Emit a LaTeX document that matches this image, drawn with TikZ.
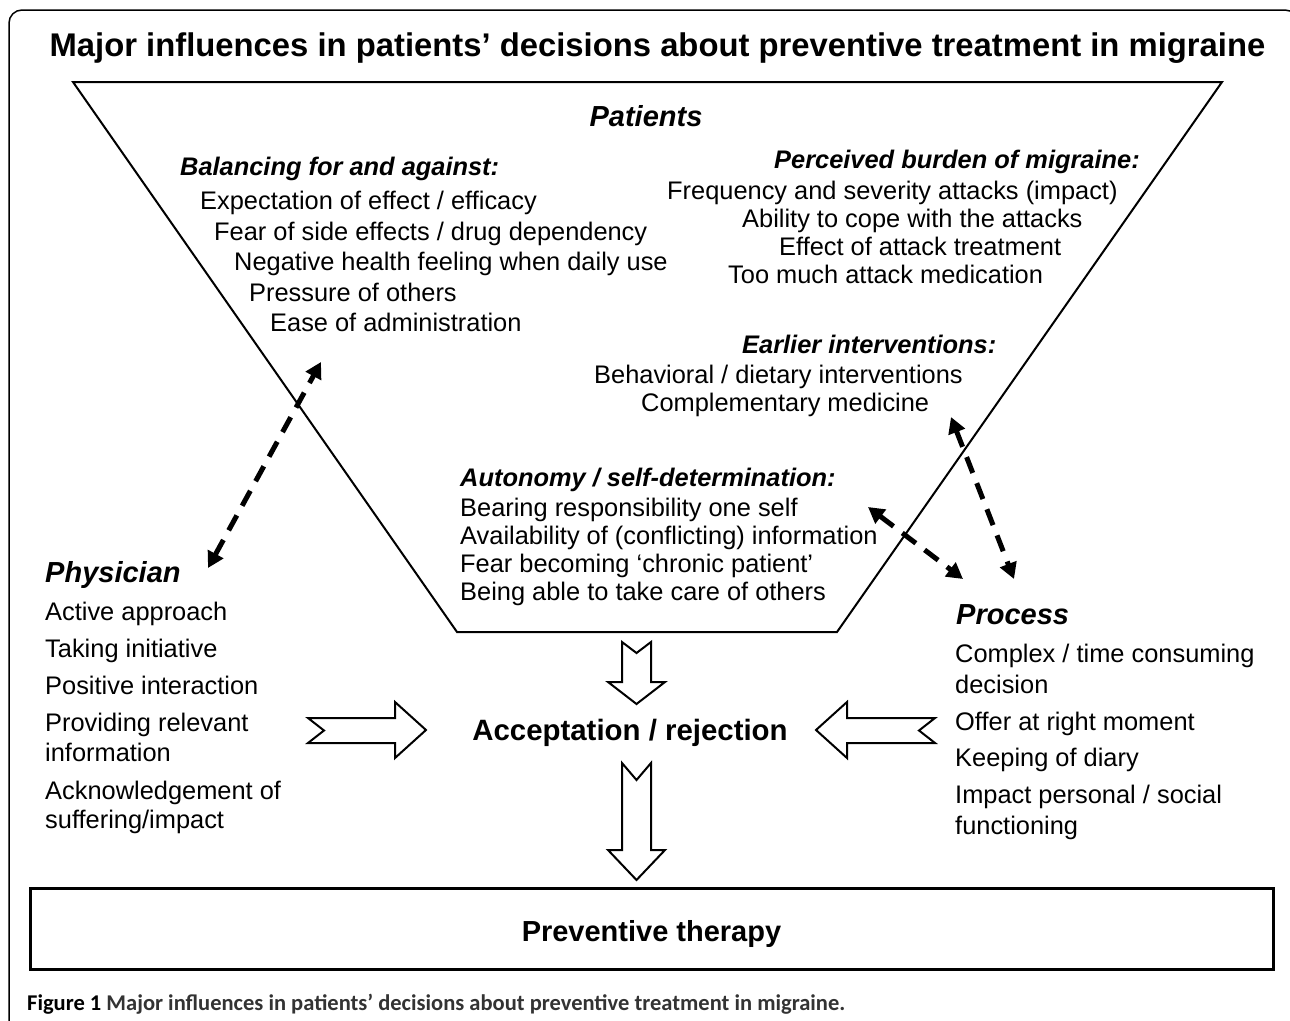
\documentclass[tikz,border=0pt]{standalone}
\usepackage{fontspec}
\setmainfont{Liberation Sans}
\newfontfamily\capfont{Carlito}
\usetikzlibrary{arrows.meta}
\tikzset{
  txt/.style={anchor=base west, inner sep=0pt, font=\fontsize{25.4}{30}\selectfont},
  subhead/.style={anchor=base west, inner sep=0pt, font=\fontsize{25.4}{30}\selectfont\bfseries\itshape},
  head/.style={anchor=base west, inner sep=0pt, font=\fontsize{29}{34}\selectfont\bfseries\itshape},
  blockarrow/.style={draw=black, line width=2pt, fill=white, line join=miter},
  dasharrow/.style={line width=5pt, dash pattern=on 17pt off 11pt,
    {Triangle[length=16pt,width=17pt]}-{Triangle[length=16pt,width=17pt]}},
}
\begin{document}
\begin{tikzpicture}[x=1pt,y=-1pt]
\useasboundingbox (0,0) rectangle (1290,1020);
\clip (0,0) rectangle (1290,1020);
\fill[white] (0,0) rectangle (1290,1020);
% outer frame
\draw[line width=1.5pt, rounded corners=13pt] (9,10) rectangle (1298,1040);
% title
\node[anchor=base, inner sep=0pt, font=\fontsize{32.8}{38}\selectfont\bfseries] (title) at (657.5,56)
  {Major influences in patients’ decisions about preventive treatment in migraine};
% funnel
\draw[line width=2pt, line join=miter] (73,82) -- (1222,82) -- (837,632) -- (457,632) -- cycle;
\node[anchor=base, inner sep=0pt, font=\fontsize{29}{34}\selectfont\bfseries\itshape] (patients) at (646,126) {Patients};
% balancing
\node[subhead] (bal) at (180,175) {Balancing for and against:};
\node[txt] (b1) at (200,209) {Expectation of effect / efficacy};
\node[txt] (b2) at (214,240) {Fear of side effects / drug dependency};
\node[txt] (b3) at (234,270) {Negative health feeling when daily use};
\node[txt] (b4) at (249,301) {Pressure of others};
\node[txt] (b5) at (270,331) {Ease of administration};
% perceived burden
\node[subhead] (burd) at (774,168) {Perceived burden of migraine:};
\node[txt] (p1) at (667,199) {Frequency and severity attacks (impact)};
\node[txt] (p2) at (742,227) {Ability to cope with the attacks};
\node[txt] (p3) at (779,255) {Effect of attack treatment};
\node[txt] (p4) at (728,283) {Too much attack medication};
% earlier interventions
\node[subhead] (earl) at (742,353) {Earlier interventions:};
\node[txt] (e1) at (594,383) {Behavioral / dietary interventions};
\node[txt] (e2) at (641,411) {Complementary medicine};
% autonomy
\node[subhead] (auto) at (460,486) {Autonomy / self-determination:};
\node[txt] (a1) at (460,516) {Bearing responsibility one self};
\node[txt] (a2) at (460,544) {Availability of (conflicting) information};
\node[txt] (a3) at (460,572) {Fear becoming ‘chronic patient’};
\node[txt] (a4) at (460,600) {Being able to take care of others};
% physician
\node[head] (phys) at (45,582) {Physician};
\node[txt] (ph1) at (45,620) {Active approach};
\node[txt] (ph2) at (45,657) {Taking initiative};
\node[txt] (ph3) at (45,694) {Positive interaction};
\node[txt] (ph4) at (45,731) {Providing relevant};
\node[txt] (ph5) at (45,761) {information};
\node[txt] (ph6) at (45,799) {Acknowledgement of};
\node[txt] (ph7) at (45,828) {suffering/impact};
% process
\node[head] (proc) at (956,624) {Process};
\node[txt] (pr1) at (955,662) {Complex / time consuming};
\node[txt] (pr2) at (955,693) {decision};
\node[txt] (pr3) at (955,730) {Offer at right moment};
\node[txt] (pr4) at (955,766) {Keeping of diary};
\node[txt] (pr5) at (955,803) {Impact personal / social};
\node[txt] (pr6) at (955,834) {functioning};
% acceptation
\node[anchor=base, inner sep=0pt, font=\fontsize{29.4}{34}\selectfont\bfseries] (acc) at (630,740) {Acceptation / rejection};
% block arrows
\draw[blockarrow] (622,642) -- (636.5,653) -- (651,642) -- (651,682) -- (665,682) -- (636.5,704) -- (608,682) -- (622,682) -- cycle;
\draw[blockarrow] (622,763) -- (636.5,780) -- (651,763) -- (651,850) -- (665,850) -- (636.5,880) -- (608,850) -- (622,850) -- cycle;
\draw[blockarrow] (308,718) -- (395,718) -- (395,702) -- (426,730) -- (395,758) -- (395,743) -- (308,743) -- (324,730.5) -- cycle;
\draw[blockarrow] (935,718) -- (847,718) -- (847,702) -- (816,730) -- (847,758) -- (847,743) -- (935,743) -- (919,730.5) -- cycle;
% preventive therapy
\draw[line width=3pt] (30,888) rectangle (1273,969);
\node[anchor=base, inner sep=0pt, font=\fontsize{29}{34}\selectfont\bfseries] (prev) at (651.5,941) {Preventive therapy};
% dashed arrows
\coordinate (dl1) at (208,568);
\coordinate (dl2) at (321,362);
\coordinate (dr1) at (951,417);
\coordinate (dr2) at (1014,579);
\coordinate (dm1) at (868,507);
\coordinate (dm2) at (963,579);
\draw[dasharrow] (dl1) -- (dl2);
\draw[dasharrow] (dr1) -- (dr2);
\draw[dasharrow] (dm1) -- (dm2);
% caption
\node[anchor=base west, inner sep=0pt] (cap) at (27,1010)
  {\resizebox{818pt}{!}{\capfont\fontsize{19}{22}\selectfont\bfseries Figure 1 \textcolor{black!80}{Major influences in patients’ decisions about preventive treatment in migraine.}}};
\end{tikzpicture}
\end{document}
